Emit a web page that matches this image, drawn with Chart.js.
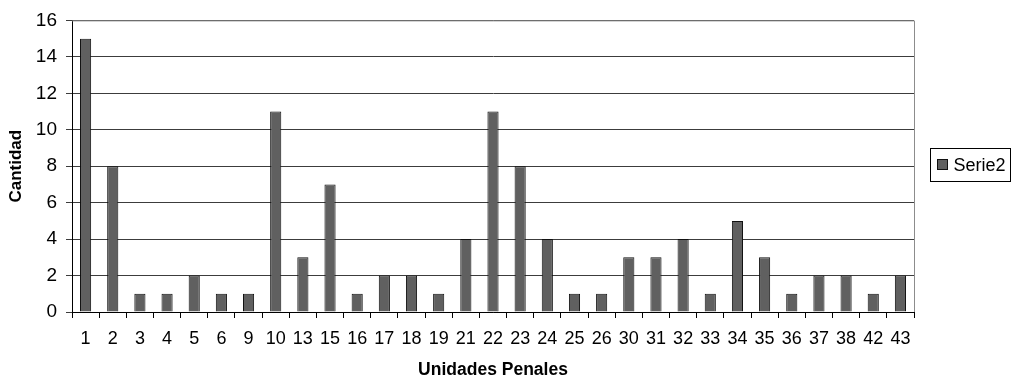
<!DOCTYPE html>
<html>
<head>
<meta charset="utf-8">
<script src="https://cdn.jsdelivr.net/npm/chart.js@4/dist/chart.umd.min.js"></script>
<style>
  html, body { margin: 0; padding: 0; background: #fff; }
</style>
</head>
<body>
<canvas id="chart" width="1012" height="381"></canvas>
<script>
const categories = ['1','2','3','4','5','6','9','10','13','15','16','17','18','19','21','22','23','24','25','26','30','31','32','33','34','35','36','37','38','42','43'];
const serie2 = [15,8,1,1,2,1,1,11,3,7,1,2,2,1,4,11,8,4,1,1,3,3,4,1,5,3,1,2,2,1,2];
const seriesName = 'Serie2';
const yTitle = 'Cantidad';
const xTitle = 'Unidades Penales';

const FONT = '"Liberation Sans", Arial, sans-serif';

// borde gris del area de trazado y leyenda con caja
const frameLegend = {
  id: 'frame-legend',
  afterDatasetsDraw: (chart) => {
    const ctx = chart.ctx;
    const a = chart.chartArea;
    ctx.save();
    ctx.strokeStyle = '#8c8c8c';
    ctx.lineWidth = 1;
    ctx.beginPath();
    ctx.moveTo(a.left, a.top + 0.5);
    ctx.lineTo(a.right + 0.5, a.top + 0.5);
    ctx.lineTo(a.right + 0.5, a.bottom);
    ctx.stroke();

    // leyenda
    const ds = chart.data.datasets[0];
    const bx = 930.5, by = 148.5, bw = 80, bh = 33;
    ctx.strokeStyle = '#000';
    ctx.strokeRect(bx, by, bw, bh);
    ctx.fillStyle = ds.backgroundColor;
    ctx.fillRect(bx + 7, by + 11, 10, 10);
    ctx.strokeStyle = ds.borderColor;
    ctx.strokeRect(bx + 7, by + 11, 10, 10);
    ctx.fillStyle = '#000';
    ctx.font = '18px ' + FONT;
    ctx.textBaseline = 'middle';
    ctx.fillText(ds.label, bx + 23, by + bh / 2 + 1);
    ctx.restore();
  }
};

new Chart(document.getElementById('chart'), {
  type: 'bar',
  data: {
    labels: categories,
    datasets: [{
      label: seriesName,
      data: serie2,
      backgroundColor: '#606060',
      borderColor: '#111',
      borderWidth: 1,
      barPercentage: 0.41,
      categoryPercentage: 1
    }]
  },
  options: {
    responsive: false,
    animation: false,
    layout: { padding: { top: 18, right: 98, left: 0, bottom: 0 } },
    plugins: {
      legend: { display: false },
      tooltip: { enabled: false }
    },
    scales: {
      x: {
        offset: true,
        afterFit: (scale) => { scale.height = 69; },
        grid: {
          offset: true,
          drawOnChartArea: false,
          drawTicks: true,
          tickLength: 6,
          color: '#000'
        },
        border: { color: '#000', width: 1 },
        ticks: {
          color: '#000',
          font: { family: FONT, size: 18 },
          padding: 10,
          maxRotation: 0,
          autoSkip: false
        },
        title: {
          display: true,
          text: xTitle,
          color: '#000',
          font: { family: FONT, size: 17.5, weight: 'bold' },
          padding: { top: 0, bottom: 0 }
        }
      },
      y: {
        min: 0,
        max: 16,
        afterFit: (scale) => { scale.width = 72; },
        ticks: {
          stepSize: 2,
          color: '#000',
          font: { family: FONT, size: 19 },
          padding: 9
        },
        grid: {
          color: '#3c3c3c',
          drawTicks: true,
          tickLength: 6
        },
        border: { color: '#000', width: 1 },
        title: {
          display: true,
          text: yTitle,
          color: '#000',
          font: { family: FONT, size: 17, weight: 'bold' },
          padding: { top: 6, bottom: 0 }
        }
      }
    }
  },
  plugins: [frameLegend]
});
</script>
</body>
</html>
